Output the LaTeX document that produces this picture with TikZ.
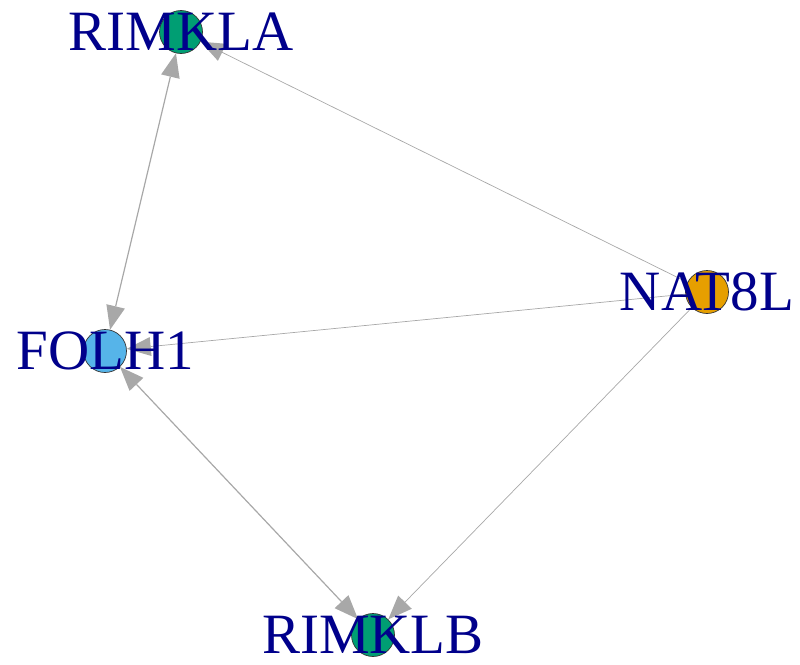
\documentclass[tikz,border=0pt]{standalone}
\usepackage{fontspec}
\setmainfont{Liberation Serif}
\usetikzlibrary{arrows.meta,backgrounds}
\definecolor{vgreen}{HTML}{009E73}
\definecolor{vblue}{HTML}{56B4E9}
\definecolor{vorange}{HTML}{E69F00}
\definecolor{lbl}{HTML}{00008B}
\definecolor{edgeA}{HTML}{A8A8A8}
\definecolor{edgeB}{HTML}{A8A8A8}
\tikzset{
  vertex/.style={circle, draw=black!80, line width=0.7pt, minimum size=43pt, inner sep=0pt},
  vlabel/.style={text=lbl, inner sep=0pt, text depth=0pt, font=\fontsize{57}{60}\selectfont},
  mytip/.tip={Triangle[length=24pt,width=19pt,line width=0pt]},
  edgeone/.style={draw=edgeA, line width=0.7pt, arrows={-mytip}},
  edgetwo/.style={draw=edgeB, line width=1.2pt, arrows={mytip-mytip}}
}
\begin{document}
\begin{tikzpicture}[x=1pt,y=-1pt]
\useasboundingbox (0,0) rectangle (800,664);
\node[vertex, fill=vgreen] (rimkla) at (181,32) {};
\node[vertex, fill=vblue] (folh1) at (105,351) {};
\node[vertex, fill=vorange] (nat8l) at (707,292) {};
\node[vertex, fill=vgreen] (rimklb) at (373,635) {};
\begin{pgfonlayer}{background}
\draw[edgeone] (nat8l) -- (rimkla);
\draw[edgeone] (nat8l) -- (folh1);
\draw[edgeone] (nat8l) -- (rimklb);
\draw[edgetwo] (rimkla) -- (folh1);
\draw[edgetwo] (folh1) -- (rimklb);
\end{pgfonlayer}
\node[vlabel] (lrimkla) at (rimkla) {RIMKLA};
\node[vlabel] (lfolh1) at (folh1) {FOLH1};
\node[vlabel] (lnat8l) at (nat8l) {NAT8L};
\node[vlabel] (lrimklb) at (rimklb) {RIMKLB};
\end{tikzpicture}
\end{document}
